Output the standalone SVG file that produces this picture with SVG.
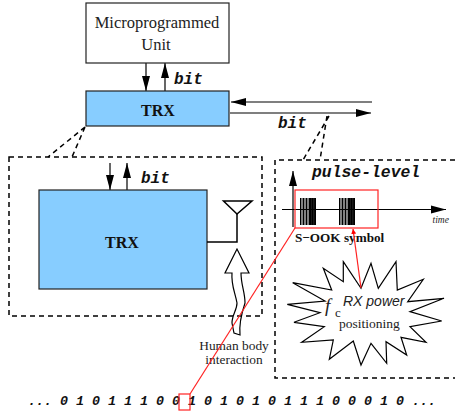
<svg xmlns="http://www.w3.org/2000/svg" width="456" height="415" viewBox="0 0 456 415">
<style>
.box{stroke:#222;stroke-width:1.2}
.trx{fill:#87cdff}
.ln{fill:none;stroke:#000;stroke-width:1.2}
.dash{fill:none;stroke:#000;stroke-width:1.5;stroke-dasharray:5 4}
.red{fill:none;stroke:#f22;stroke-width:1.200}
.serif{font-family:"Liberation Serif",serif;fill:#222}
.bsf{font-family:"Liberation Serif",serif;font-weight:bold;fill:#111}
.mono{font-family:"Liberation Mono",monospace;font-weight:bold;font-style:italic;fill:#111}
.m{text-anchor:middle}
</style>
<defs>
<marker id="a" markerUnits="userSpaceOnUse" markerWidth="16" markerHeight="10" refX="15" refY="5" orient="auto"><path d="M0 1L15 5L0 9Z" fill="#000"/></marker>
<marker id="r" markerUnits="userSpaceOnUse" markerWidth="6" markerHeight="6" refX="5" refY="3" orient="auto"><path d="M0 .5L5 3L0 5.5Z" fill="#f00"/></marker>
</defs>
<rect width="456" height="415" fill="#fff"/>
<g id="connectors">
<path class="ln" d="M146 63V91" marker-end="url(#a)"/>
<path class="ln" d="M165 91V63" marker-end="url(#a)"/>
<path d="M372 102H231" fill="none" stroke="#555" stroke-width="1.6" marker-end="url(#a)"/>
<path d="M230 113H371" fill="none" stroke="#555" stroke-width="1.6" marker-end="url(#a)"/>
<path class="ln" d="M110 163V190" marker-end="url(#a)"/>
<path class="ln" d="M127 190V163" marker-end="url(#a)"/>
<path class="dash" d="M85 127L48 157M85 127L72 157M329 116L303 160M327 116L320 160"/>
</g>
<g id="microprogrammed-unit">
<rect class="box" x="86" y="3" width="143" height="60" fill="#fff"/>
<text class="serif m" x="157" y="28" font-size="16.500">Microprogrammed</text>
<text class="serif m" x="156" y="50" font-size="16.500">Unit</text>
</g>
<text class="mono" x="174" y="84" font-size="16">bit</text>
<g id="trx-top">
<rect class="box trx" x="86" y="91" width="143" height="35"/>
<text class="bsf m" x="158" y="116" font-size="16">TRX</text>
</g>
<text class="mono" x="278" y="128" font-size="16">bit</text>
<g id="detail-box">
<rect class="dash" x="9" y="157" width="253" height="159"/>
</g>
<g id="trx-detail">
<rect class="box trx" x="39" y="190" width="168" height="99"/>
<text class="bsf m" x="122" y="248" font-size="16">TRX</text>
</g>
<text class="mono" x="141" y="183" font-size="16">bit</text>
<g id="antenna">
<path d="M207 242H237V214" fill="none" stroke="#000" stroke-width="1.500"/>
<path d="M223.500 201H252L237 214Z" fill="none" stroke="#000" stroke-width="1.500"/>
</g>
<g id="body-arrow">
<path class="ln" d="M237 249L225 273H232C231 285 235 292 237 303C237 310 232 315 232 323L234 333L240 335C239 325 241 315 245 303C245 292 241 285 241 273H249Z"/>
<text class="serif m" x="234" y="350" font-size="13.400">Human body</text>
<text class="serif m" x="234" y="364" font-size="13.400">interaction</text>
</g>
<g id="pulse-box">
<path class="dash" d="M455 160H275V378H455"/>
<text class="mono" x="312" y="177" font-size="16.400">pulse-level</text>
</g>
<g id="pulse-plot">
<path class="ln" d="M293 227V171" marker-end="url(#a)"/>
<path class="ln" d="M282 209.500H446" marker-end="url(#a)"/>
<path d="M300 211.500H316M339 211.500H355" stroke="#000" stroke-width="27" stroke-dasharray="1 .5" fill="none"/>
<path d="M310 211.500H316M349 211.500H355" stroke="#000" stroke-width="27" stroke-dasharray="1.500 .2" fill="none"/>
<text x="432.500" y="223" font-size="9.500" font-family="Liberation Serif,serif" font-style="italic" fill="#222">time</text>
<rect class="red" x="295" y="190" width="83" height="38"/>
<text class="bsf" x="295" y="242" font-size="13.200">S−OOK symbol</text>
</g>
<g id="starburst">
<polygon class="ln" points="343.300,261.700 361,288.300 371,263.300 378.300,288.300 396,261.700 397.300,290 423.300,279.300 407.700,301.700 444,298.300 410,311.700 441.700,321 410,326.700 426,342.300 401,337.300 406.700,355 386,341.700 386.700,363.300 371,343.300 361,365 353.300,341 329.300,359.300 333.300,340 301.700,342.300 324.300,326.700 294,322.300 320,312.700 287.300,304.300 325,301 292.700,282.700 331.700,290 323.300,268.300 343.300,281.700"/>
<text x="343" y="306" font-size="14" font-family="Liberation Sans,sans-serif" font-style="italic" fill="#222">RX power</text>
<text class="serif" x="339" y="328" font-size="13.500">positioning</text>
<text class="serif" x="325" y="312" font-size="19" font-style="italic">f</text>
<text class="serif" x="335" y="317" font-size="13">c</text>
</g>
<g id="bit-stream">
<text class="mono" x="28" y="405" font-size="13.330">... 0 1 0 1 1 1 0 0 1 0 1 0 1 0 1 1 1 0 0 0 1 0 ...</text>
<rect class="red" x="179" y="394" width="11" height="16"/>
</g>
<g id="red-links">
<path class="red" d="M190 394L295 228"/>
<path class="red" d="M361 288L353 229" marker-end="url(#r)"/>
</g>
</svg>
